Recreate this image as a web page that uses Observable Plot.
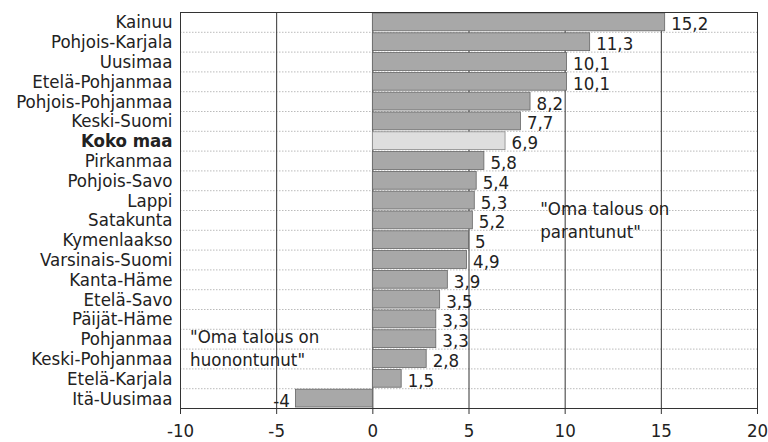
<!DOCTYPE html>
<html>
<head>
<meta charset="utf-8">
<script src="https://cdn.jsdelivr.net/npm/d3@7"></script>
<script src="https://cdn.jsdelivr.net/npm/@observablehq/plot@0.6"></script>
<style>
  html, body { margin: 0; padding: 0; background: #fff; }
  #chart svg { display: block; }
</style>
</head>
<body>
<div id="chart"></div>
<script>
const regions = ["Kainuu","Pohjois-Karjala","Uusimaa","Etelä-Pohjanmaa","Pohjois-Pohjanmaa","Keski-Suomi","Koko maa","Pirkanmaa","Pohjois-Savo","Lappi","Satakunta","Kymenlaakso","Varsinais-Suomi","Kanta-Häme","Etelä-Savo","Päijät-Häme","Pohjanmaa","Keski-Pohjanmaa","Etelä-Karjala","Itä-Uusimaa"];
const values = [15.2,11.3,10.1,10.1,8.2,7.7,6.9,5.8,5.4,5.3,5.2,5,4.9,3.9,3.5,3.3,3.3,2.8,1.5,-4];
const xTicks = [-10,-5,0,5,10,15,20];
const gridLines = [-5,0,5,10,15];
const totalLabel = "Koko maa";
const notes = [
  {x: 8.7, y: "Satakunta", dy: -1, text: "\"Oma talous on\nparantunut\""},
  {x: -9.5, y: "Pohjanmaa", dy: 8, text: "\"Oma talous on\nhuonontunut\""}
];

const data = regions.map((r, i) => ({region: r, value: values[i]}));
const fmt = v => String(v).replace(".", ",");
const font = "'DejaVu Sans Condensed', 'Liberation Sans Narrow', sans-serif";
const FS = 18.5;

const chart = Plot.plot({
  width: 768,
  height: 442,
  marginLeft: 180,
  marginRight: 11,
  marginTop: 12,
  marginBottom: 34,
  style: {fontFamily: font, fontSize: FS + "px", color: "#222", background: "#fff"},
  x: {domain: [-10, 20], ticks: xTicks},
  y: {domain: regions, paddingInner: 0.1, paddingOuter: 0.05, round: false},
  marks: [
    Plot.ruleY(regions.slice(0, -1), {y: d => d, dy: 9.9, stroke: "#aaa", strokeDasharray: "1.5,1.5", strokeWidth: 0.8}),
    Plot.ruleX(gridLines, {stroke: "#333", strokeWidth: 1}),
    Plot.barX(data, {
      x: "value", y: "region",
      fill: d => d.region === totalLabel ? "#dedede" : "#a8a8a8",
      stroke: d => d.region === totalLabel ? "#888" : "#666",
      strokeWidth: 0.8
    }),
    Plot.text(data.filter(d => d.value >= 0), {
      x: "value", y: "region", text: d => fmt(d.value),
      textAnchor: "start", dx: 6, dy: 2, fontSize: FS, fill: "#222"
    }),
    Plot.text(data.filter(d => d.value < 0), {
      x: "value", y: "region", text: d => fmt(d.value),
      textAnchor: "end", dx: -6, dy: 2, fontSize: FS, fill: "#222"
    }),
    Plot.text(notes.slice(0, 1), {x: "x", y: "y", text: "text", textAnchor: "start", fontSize: FS, fill: "#222", lineHeight: 1.25, dy: notes[0].dy}),
    Plot.text(notes.slice(1), {x: "x", y: "y", text: "text", textAnchor: "start", fontSize: FS, fill: "#222", lineHeight: 1.25, dy: notes[1].dy}),
    Plot.frame({stroke: "#333", strokeWidth: 1}),
    Plot.axisX({ticks: xTicks, tickSize: 6, tickPadding: 9, fontSize: FS, tickFormat: d => String(d), label: null, stroke: "#333"}),
    Plot.axisY({tickSize: 0, tickPadding: 8, fontSize: FS, label: null})
  ]
});

d3.select(chart).selectAll("g[aria-label='y-axis tick label'] text")
  .filter(function() { return this.textContent === totalLabel; })
  .attr("font-weight", "bold");

document.getElementById("chart").appendChild(chart);
</script>
</body>
</html>
